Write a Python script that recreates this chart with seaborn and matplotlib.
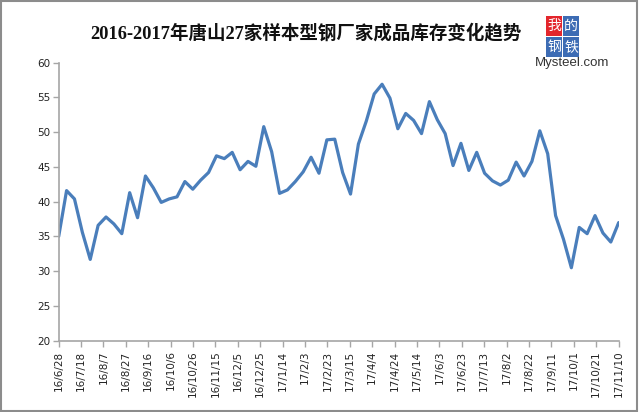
import pandas as pd
import matplotlib
matplotlib.use("Agg")
import matplotlib.pyplot as plt
import matplotlib.patches as mpatches
import seaborn as sns

# Weekly sample: 72 readings between 16/6/28 and 17/11/10 (10k tons)
start_date = "2016-06-28"
end_date = "2017-11-10"
inventory = [
    35.0, 41.6, 40.4, 35.6, 31.7, 36.6, 37.8, 36.8, 35.4, 41.3,
    37.7, 43.7, 42.0, 39.9, 40.4, 40.7, 42.9, 41.8, 43.1, 44.2,
    46.6, 46.2, 47.1, 44.6, 45.8, 45.1, 50.8, 47.2, 41.2, 41.7,
    42.9, 44.3, 46.4, 44.1, 48.9, 49.0, 44.2, 41.1, 48.3, 51.6,
    55.5, 56.9, 54.9, 50.5, 52.7, 51.7, 49.8, 54.4, 51.8, 49.8,
    45.2, 48.4, 44.5, 47.1, 44.1, 43.0, 42.4, 43.1, 45.7, 43.7,
    45.8, 50.2, 46.9, 38.0, 34.6, 30.5, 36.3, 35.4, 38.0, 35.5,
    34.2, 37.0,
]
y_ticks = [20, 25, 30, 35, 40, 45, 50, 55, 60]
title = "2016-2017年唐山27家样本型钢厂家成品库存变化趋势"

sns.set_theme(style="white")
plt.rcParams['font.family'] = ['DejaVu Sans', 'Noto Sans CJK SC']

dates = pd.date_range(start_date, end_date, periods=len(inventory))
df = pd.DataFrame({'date': dates, 'inventory': inventory})
x_ticks = pd.date_range(start_date, end_date, freq='20D')
x_labels = [f"{d.year % 100}/{d.month}/{d.day}" for d in x_ticks]

fig = plt.figure(figsize=(6.4, 4.12), dpi=100)
ax = fig.add_axes([0.0917, 0.173, 0.875, 0.6748])

sns.lineplot(data=df, x='date', y='inventory', ax=ax, color='#4a7ebb', linewidth=2.3)

ax.set_xlim(x_ticks[0], x_ticks[-1])
ax.set_ylim(20, 60)
ax.set_yticks(y_ticks)
ax.set_yticklabels([str(v) for v in y_ticks], fontsize=7.5, color='#222222')
ax.set_xticks(x_ticks)
ax.set_xticklabels(x_labels, rotation=90, fontsize=7.5, color='#222222')
ax.set_xlabel('')
ax.set_ylabel('')

for side in ['top', 'right']:
    ax.spines[side].set_visible(False)
for side in ['left', 'bottom']:
    ax.spines[side].set_color('#a6a6a6')
    ax.spines[side].set_linewidth(1.2)
ax.tick_params(axis='both', which='both', direction='out', length=4,
               width=1, color='#a6a6a6', pad=2, left=True, bottom=True)
ax.tick_params(axis='x', pad=3)

# title
fig.text(0.478, 0.921, title, ha='center', va='center', fontsize=13.3,
         fontweight='bold', color='#111111',
         family=['Liberation Serif', 'Noto Sans CJK SC'])

# Mysteel logo in the top-right corner
H, W = 412, 640
boxes = [("我", 546, 16, '#e3262c'), ("的", 563, 16, '#3d6cb4'),
         ("钢", 546, 37, '#3d6cb4'), ("铁", 563, 37, '#3d6cb4')]
for ch, bx, by, col in boxes:
    fig.patches.append(mpatches.Rectangle((bx / W, 1 - (by + 20) / H), 16 / W, 20 / H,
                                          transform=fig.transFigure, facecolor=col,
                                          edgecolor='none'))
    fig.text((bx + 8) / W, 1 - (by + 10) / H, ch, ha='center', va='center',
             fontsize=10, color='white', family=['Noto Sans CJK SC'])
fig.text(572 / W, 1 - 63 / H, "Mysteel.com", ha='center', va='center',
         fontsize=9.5, color='#333333', family=['Liberation Sans'])

# outer frame
fig.patches.append(mpatches.Rectangle((0.002, 0.003), 0.994, 0.994,
                                      transform=fig.transFigure, fill=False,
                                      edgecolor='#8c8c8c', linewidth=1.5))

fig.savefig('out.png', dpi=100)
